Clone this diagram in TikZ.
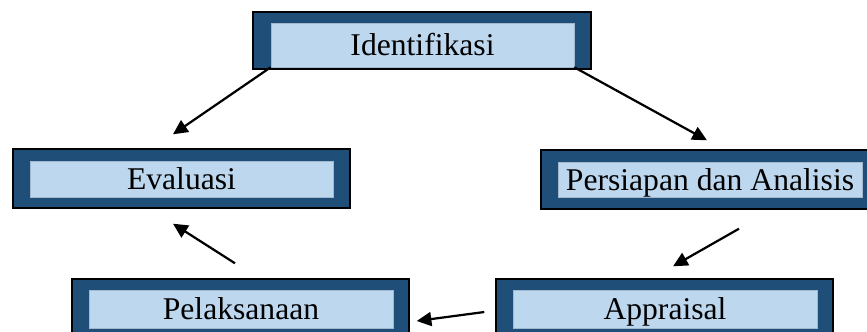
\documentclass[tikz,border=0pt]{standalone}
\usepackage{fontspec}
\setmainfont{Liberation Serif}
\usepackage{xcolor}
\usetikzlibrary{arrows.meta,calc}

\definecolor{frameblue}{HTML}{1F4E79}
\definecolor{fieldblue}{HTML}{BDD7EE}
\definecolor{fieldedge}{HTML}{9FB8CF}

\begin{document}
\begin{tikzpicture}[x=0.03cm, y=-0.03cm,
    frame/.style={rectangle, draw=black, line width=1.2pt, fill=frameblue, inner sep=0pt},
    field/.style={rectangle, draw=fieldedge, line width=0.4pt, fill=fieldblue, inner sep=0pt,
        text height=18.4pt, text depth=0pt, font=\fontsize{27}{32}\selectfont},
    arrow/.style={-{Triangle[length=0.44cm, width=0.42cm]}, line width=1.9pt}]

    \useasboundingbox (0,0) rectangle (867,331);

    % Outer frames
    \node[frame, minimum width=10.14cm, minimum height=1.71cm] (ident) at (422,40.5) {};
    \node[frame, minimum width=10.11cm, minimum height=1.77cm] (eval) at (181.5,178.5) {};
    \node[frame, minimum width=9.84cm, minimum height=1.77cm] (prep) at (705,179.5) {};
    \node[frame, minimum width=10.11cm, minimum height=1.8cm] (exec) at (240.5,309) {};
    \node[frame, minimum width=10.11cm, minimum height=1.8cm] (appr) at (664.5,309) {};

    % Inner fields with the stage names
    \node[field, minimum width=9.09cm, minimum height=1.32cm] (ident-in) at (422.5,45) {Identifikasi};
    \node[field, minimum width=9.09cm, minimum height=1.08cm] (eval-in) at (181.5,179) {Evaluasi};
    \node[field, minimum width=9.12cm, minimum height=1.05cm] (prep-in) at (710,179.5) {Persiapan dan Analisis};
    \node[field, minimum width=9.12cm, minimum height=1.14cm] (exec-in) at (241,309) {Pelaksanaan};
    \node[field, minimum width=9.12cm, minimum height=1.14cm] (appr-in) at (665,309) {Appraisal};

    % Cycle arrows
    \draw[arrow] (ident-in.south west) -- ($(eval.north)+(-8.5,-14)$);
    \draw[arrow] (ident-in.south east) -- ($(prep.north)+(2,-9)$);
    \draw[arrow] ($(prep.south)+(34,19)$) -- ($(appr.north)+(8.5,-12)$);
    \draw[arrow] ($(appr.west)+(-11,3)$) -- ($(exec.east)+(7,12)$);
    \draw[arrow] ($(exec.north)+(-5.5,-15)$) -- ($(eval.south)+(-8.5,15)$);

\end{tikzpicture}
\end{document}
